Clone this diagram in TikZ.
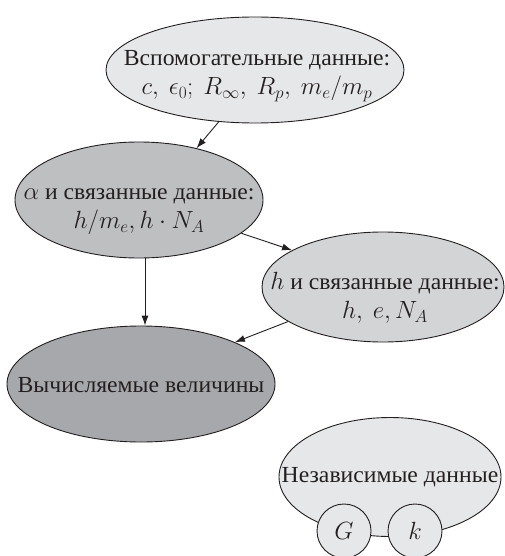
\documentclass[tikz,border=0pt]{standalone}
\usepackage{fontspec}
\setmainfont{Liberation Serif}[FakeStretch=1.03]
\usetikzlibrary{shapes.geometric,arrows.meta}
\definecolor{cLight}{RGB}{230,231,232}
\definecolor{cMid}{RGB}{190,191,193}
\definecolor{cH}{RGB}{211,212,214}
\definecolor{cDark}{RGB}{167,168,171}
\definecolor{cInk}{RGB}{35,31,32}
\tikzset{
  ell/.style={ellipse, draw=cInk, line width=0.9pt, inner sep=0pt},
  txt/.style={align=center, text=cInk, inner sep=0pt, font=\fontsize{23}{29}\selectfont},
  arr/.style={draw=cInk, line width=0.9pt, -{Latex[length=10pt,width=7pt]}},
  circ/.style={circle, draw=cInk, line width=0.9pt, fill=cLight, minimum size=54pt, inner sep=0pt, text=cInk, font=\fontsize{23}{27}\selectfont}
}
\begin{document}
\begin{tikzpicture}[x=1pt,y=-1pt]
\useasboundingbox (0,0) rectangle (504,556);
\node[ell, fill=cLight, minimum width=298pt, minimum height=106pt] (top) at (255,70) {};
\node[ell, fill=cMid, minimum width=248pt, minimum height=116pt] (alpha) at (139,200) {};
\node[ell, fill=cH, minimum width=242pt, minimum height=110pt] (hn) at (383,287) {};
\node[ell, fill=cDark, minimum width=268pt, minimum height=116pt] (calc) at (141,384) {};
\node[ell, fill=cLight, minimum width=222pt, minimum height=119pt] (ind) at (390,477) {};

\node[txt] (toptxt) at ([xshift=2pt,yshift=-6pt]top.center) {Вспомогательные данные:\\$c,\ \epsilon_0;\ R_\infty,\ R_p,\ m_e/m_p$};
\node[txt] (alphatxt) at ([yshift=-12pt]alpha.center) {$\alpha$ и связанные данные:\\$h/m_e, h\cdot N_A$};
\node[txt] (htxt) at ([xshift=2pt,yshift=-11pt]hn.center) {$h$ и связанные данные:\\$h,\ e, N_A$};
\node[txt] (calctxt) at ([yshift=-1pt]calc.center) {Вычисляемые величины};
\node[txt] (indtxt) at (ind.center) {Независимые данные};

\draw[arr] (top.235) -- (alpha.42);
\draw[arr] (alpha.342) -- (hn.158);
\draw[arr] ([xshift=6pt]alpha.south) -- ([xshift=6pt]alpha.south |- calc.north);
\draw[arr] (hn.200) -- (calc.24);

\node[circ] (G) at (344,531) {$G$};
\node[circ] (k) at (415,531) {$k$};
\end{tikzpicture}
\end{document}
